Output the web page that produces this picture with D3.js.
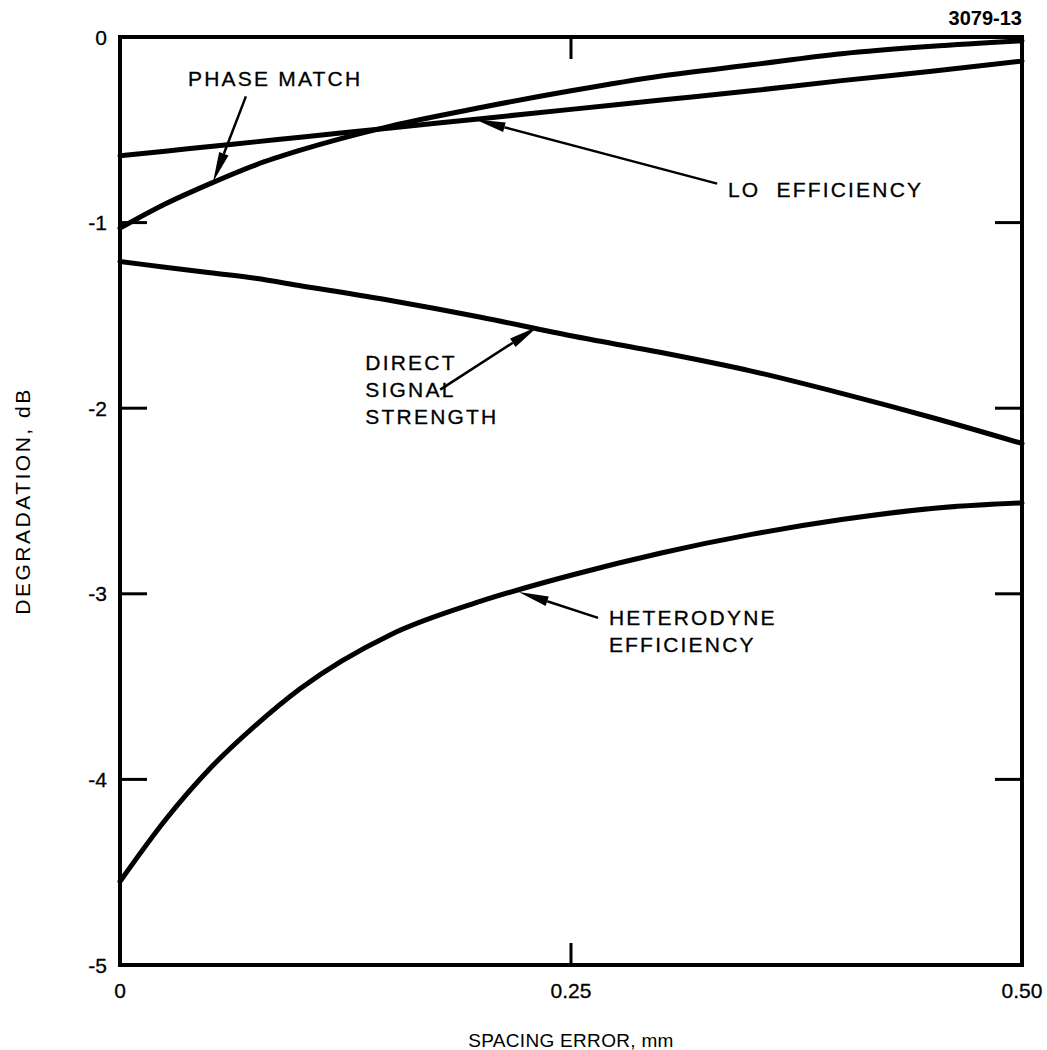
<!DOCTYPE html>
<html>
<head>
<meta charset="utf-8">
<script src="https://cdn.jsdelivr.net/npm/d3@7"></script>
<style>
  body { margin: 0; background: #fff; }
  text { font-family: "Liberation Sans", Arial, Helvetica, sans-serif; fill: #000; }
</style>
</head>
<body>
<svg id="chart" width="1047" height="1050"></svg>
<script>
// Data (spacing error in mm, degradation in dB)
const spacing = [0, 0.025, 0.05, 0.075, 0.1, 0.15, 0.2, 0.25, 0.3, 0.35, 0.4, 0.45, 0.5];
const phaseMatch = [-1.03, -0.90, -0.79, -0.69, -0.61, -0.48, -0.38, -0.29, -0.21, -0.15, -0.09, -0.05, -0.02];
const loEfficiency = [-0.64, -0.615, -0.59, -0.565, -0.54, -0.49, -0.44, -0.39, -0.34, -0.29, -0.235, -0.185, -0.13];
const directSignal = [-1.21, -1.24, -1.27, -1.30, -1.34, -1.42, -1.51, -1.61, -1.70, -1.80, -1.92, -2.05, -2.19];
const heterodyne = [-4.55, -4.22, -3.94, -3.71, -3.51, -3.22, -3.04, -2.90, -2.78, -2.68, -2.60, -2.54, -2.51];

const xTicks = [0, 0.25, 0.5];
const xTickLabels = ["0", "0.25", "0.50"];
const yTicks = [0, -1, -2, -3, -4, -5];
const yTickLabels = ["0", "-1", "-2", "-3", "-4", "-5"];

// annotation labels: text lines, anchor in data units, arrow tail and tip in data units
const labels = [
  { lines: ["PHASE MATCH"], x: 0.0377, y: -0.22, tail: [0.0698, -0.32], tip: [0.0516, -0.78] },
  { lines: ["LO  EFFICIENCY"], x: 0.337, y: -0.82, tail: [0.331, -0.79], tip: [0.197, -0.445] },
  { lines: ["DIRECT", "SIGNAL", "STRENGTH"], x: 0.136, y: -1.752, tail: [0.1775, -1.90], tip: [0.2317, -1.56] },
  { lines: ["HETERODYNE", "EFFICIENCY"], x: 0.271, y: -3.125, tail: [0.265, -3.13], tip: [0.221, -2.99] }
];

const svg = d3.select("#chart");
const plotLeft = 120, plotRight = 1022, plotTop = 37, plotBottom = 965;

const x = d3.scaleLinear().domain([0, 0.5]).range([plotLeft, plotRight]);
const y = d3.scaleLinear().domain([0, -5]).range([plotTop, plotBottom]);

// Frame
svg.append("rect")
  .attr("x", plotLeft).attr("y", plotTop)
  .attr("width", plotRight - plotLeft).attr("height", plotBottom - plotTop)
  .attr("fill", "none").attr("stroke", "#000").attr("stroke-width", 4);

// Inward ticks on the y axis (both sides)
const inner = yTicks.filter(d => d !== 0 && d !== -5);
svg.append("g").selectAll("line").data(inner).join("line")
  .attr("x1", plotLeft).attr("x2", plotLeft + 27)
  .attr("y1", d => y(d)).attr("y2", d => y(d))
  .attr("stroke", "#000").attr("stroke-width", 3);
svg.append("g").selectAll("line").data(inner).join("line")
  .attr("x1", plotRight).attr("x2", plotRight - 27)
  .attr("y1", d => y(d)).attr("y2", d => y(d))
  .attr("stroke", "#000").attr("stroke-width", 3);

// Inward tick at 0.25 top and bottom
svg.append("line")
  .attr("x1", x(0.25)).attr("x2", x(0.25))
  .attr("y1", plotTop).attr("y2", plotTop + 22)
  .attr("stroke", "#000").attr("stroke-width", 3);
svg.append("line")
  .attr("x1", x(0.25)).attr("x2", x(0.25))
  .attr("y1", plotBottom).attr("y2", plotBottom - 22)
  .attr("stroke", "#000").attr("stroke-width", 3);

// Tick labels
svg.append("g").selectAll("text").data(yTicks).join("text")
  .attr("x", 107).attr("y", d => y(d))
  .attr("text-anchor", "end").attr("dominant-baseline", "central")
  .attr("font-size", 21).attr("stroke", "#000").attr("stroke-width", 0.3)
  .text((d, i) => yTickLabels[i]);

svg.append("g").selectAll("text").data(xTicks).join("text")
  .attr("x", d => x(d)).attr("y", 990)
  .attr("text-anchor", "middle").attr("dominant-baseline", "central")
  .attr("font-size", 21).attr("stroke", "#000").attr("stroke-width", 0.3)
  .text((d, i) => xTickLabels[i]);

// Axis titles
svg.append("text")
  .attr("transform", `translate(22, ${y(-2.5)}) rotate(-90)`)
  .attr("text-anchor", "middle").attr("dominant-baseline", "central")
  .attr("font-size", 21).attr("letter-spacing", 2.5)
  .text("DEGRADATION, dB");

svg.append("text")
  .attr("x", x(0.25)).attr("y", 1040)
  .attr("text-anchor", "middle").attr("dominant-baseline", "central")
  .attr("font-size", 19).attr("letter-spacing", 0.3)
  .text("SPACING ERROR, mm");

svg.append("text")
  .attr("x", 1022).attr("y", 18)
  .attr("text-anchor", "end").attr("dominant-baseline", "central")
  .attr("font-size", 20).attr("font-weight", "bold")
  .text("3079-13");

// Curves
const line = d3.line()
  .x(d => x(d[0]))
  .y(d => y(d[1]))
  .curve(d3.curveMonotoneX);

[phaseMatch, loEfficiency, directSignal, heterodyne].forEach(series => {
  svg.append("path")
    .datum(spacing.map((s, i) => [s, series[i]]))
    .attr("fill", "none")
    .attr("stroke", "#000")
    .attr("stroke-width", 5)
    .attr("stroke-linecap", "round")
    .attr("d", line);
});

// Annotation labels with arrows
labels.forEach(lab => {
  const t = svg.append("text")
    .attr("x", x(lab.x)).attr("y", y(lab.y))
    .attr("dominant-baseline", "central")
    .attr("font-size", 21).attr("letter-spacing", 2.2)
    .attr("stroke", "#000").attr("stroke-width", 0.3)
    .style("white-space", "pre");
  lab.lines.forEach((s, i) => {
    t.append("tspan").attr("x", x(lab.x)).attr("dy", i === 0 ? 0 : 27).text(s);
  });

  const x0 = x(lab.tail[0]), y0 = y(lab.tail[1]);
  const x1 = x(lab.tip[0]), y1 = y(lab.tip[1]);
  const ang = Math.atan2(y1 - y0, x1 - x0);
  const len = 30, hw = 5;
  const bx = x1 - len * Math.cos(ang), by = y1 - len * Math.sin(ang);
  svg.append("line")
    .attr("x1", x0).attr("y1", y0).attr("x2", bx).attr("y2", by)
    .attr("stroke", "#000").attr("stroke-width", 2.5);
  svg.append("path")
    .attr("d", `M${x1},${y1} L${bx - hw * Math.sin(ang)},${by + hw * Math.cos(ang)} L${bx + hw * Math.sin(ang)},${by - hw * Math.cos(ang)} Z`)
    .attr("fill", "#000");
});
</script>
</body>
</html>
